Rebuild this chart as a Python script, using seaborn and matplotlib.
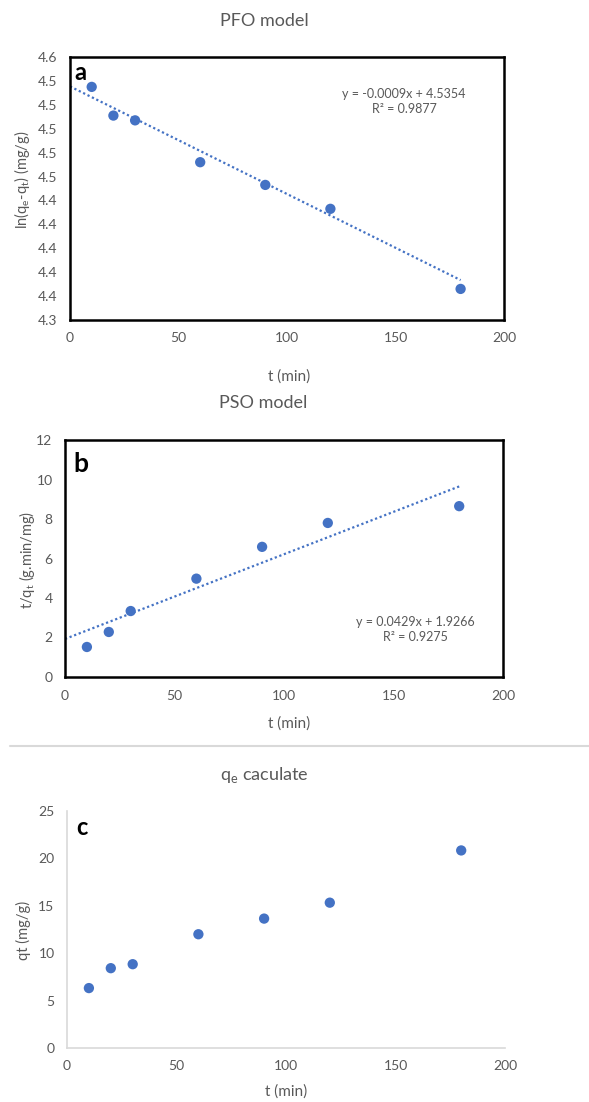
import numpy as np
import pandas as pd
import seaborn as sns
import matplotlib.pyplot as plt
from matplotlib.lines import Line2D

# --- data ---
t_min = [10, 20, 30, 60, 90, 120, 180]
ln_qe_qt = [4.535, 4.511, 4.507, 4.472, 4.453, 4.433, 4.366]
t_over_qt = [1.52, 2.28, 3.34, 4.98, 6.59, 7.80, 8.65]
qt = [6.32, 8.42, 8.84, 12.0, 13.65, 15.33, 20.84]

pfo_slope, pfo_intercept, pfo_r2 = -0.0009, 4.5354, 0.9877
pso_slope, pso_intercept, pso_r2 = 0.0429, 1.9266, 0.9275
trend_x = [0, 180]

pfo_yticks = [4.34, 4.36, 4.38, 4.40, 4.42, 4.44, 4.46, 4.48, 4.50, 4.52, 4.54, 4.56]

BLUE = '#4472C4'
GREY = '#595959'

sns.set_theme(style='white')
plt.rcParams['font.family'] = ['Lato', 'DejaVu Sans']

W, H = 589, 1102
fig = plt.figure(figsize=(W / 100, H / 100), dpi=100)


def px_axes(left, top, right, bottom):
    return fig.add_axes([left / W, 1 - bottom / H, (right - left) / W, (bottom - top) / H])


def style_axes(ax, boxed):
    ax.tick_params(axis='both', length=0, labelsize=10, labelcolor=GREY, pad=9)
    ax.grid(False)
    for side, sp in ax.spines.items():
        if boxed:
            sp.set_visible(True)
            sp.set_color('black')
            sp.set_linewidth(1.8)
        else:
            sp.set_visible(side in ('left', 'bottom'))
            sp.set_color('#d9d9d9')
            sp.set_linewidth(1.2)
    ax.set_xlim(0, 200)
    ax.set_xticks([0, 50, 100, 150, 200])
    ax.set_xlabel('')
    ax.set_ylabel('')


df = pd.DataFrame({'t': t_min, 'ln': ln_qe_qt, 'tq': t_over_qt, 'qt': qt})

# --- a: PFO ---
ax_a = px_axes(70, 57, 504, 320)
tx = np.array(trend_x, dtype=float)
sns.lineplot(x=tx, y=pfo_slope * tx + pfo_intercept, ax=ax_a, color=BLUE,
             linestyle=(0, (1, 1.2)), linewidth=1.6)
sns.scatterplot(data=df, x='t', y='ln', ax=ax_a, color=BLUE, s=55, edgecolor='none', zorder=3)
style_axes(ax_a, True)
ax_a.set_ylim(4.34, 4.56)
ax_a.set_yticks(pfo_yticks)
ax_a.set_yticklabels([f'{v:.1f}' for v in pfo_yticks])
ax_a.text(0.77, 0.83, f'y = {pfo_slope:.4f}x + {pfo_intercept:.4f}\nR² = {pfo_r2:.4f}',
          transform=ax_a.transAxes, ha='center', va='center', fontsize=9, color=GREY,
          linespacing=1.3)
ax_a.text(0.01, 0.985, 'a', transform=ax_a.transAxes, ha='left', va='top',
          fontsize=17, fontweight='bold', color='black')

# --- b: PSO ---
ax_b = px_axes(65, 440, 503, 677)
sns.lineplot(x=tx, y=pso_slope * tx + pso_intercept, ax=ax_b, color=BLUE,
             linestyle=(0, (1, 1.2)), linewidth=1.6)
sns.scatterplot(data=df, x='t', y='tq', ax=ax_b, color=BLUE, s=55, edgecolor='none', zorder=3)
style_axes(ax_b, True)
ax_b.set_ylim(0, 12)
ax_b.set_yticks(range(0, 13, 2))
ax_b.text(0.80, 0.20, f'y = {pso_slope:.4f}x + {pso_intercept:.4f}\nR² = {pso_r2:.4f}',
          transform=ax_b.transAxes, ha='center', va='center', fontsize=9, color=GREY,
          linespacing=1.3)
ax_b.text(0.02, 0.95, 'b', transform=ax_b.transAxes, ha='left', va='top',
          fontsize=19, fontweight='bold', color='black')

# --- c: qe calculated ---
ax_c = px_axes(67, 811, 505, 1048)
sns.scatterplot(data=df, x='t', y='qt', ax=ax_c, color=BLUE, s=55, edgecolor='none', zorder=3)
style_axes(ax_c, False)
ax_c.set_ylim(0, 25)
ax_c.set_yticks(range(0, 26, 5))
ax_c.text(0.02, 0.98, 'c', transform=ax_c.transAxes, ha='left', va='top',
          fontsize=17, fontweight='bold', color='black')

# titles, axis labels
def ftext(x, y, s, **kw):
    fig.text(x / W, 1 - y / H, s, ha='center', va='center', color=GREY, **kw)

ftext(264, 21, 'PFO model', fontsize=13)
ftext(263, 403, 'PSO model', fontsize=13)
ftext(264, 775, r'q$_\mathregular{e}$ caculate', fontsize=13)

ftext(289, 377, 't (min)', fontsize=11)
ftext(289, 724, 't (min)', fontsize=11)
ftext(286, 1092, 't (min)', fontsize=11)

ftext(22, 180, r'ln(q$_\mathregular{e}$-q$_\mathregular{t}$) (mg/g)', fontsize=10.5, rotation=90)
ftext(27, 560, r't/q$_\mathregular{t}$ (g.min/mg)', fontsize=10.5, rotation=90)
ftext(23, 930, 'qt (mg/g)', fontsize=10.5, rotation=90)

# separator line between panels b and c
fig.add_artist(Line2D([10 / W, 1.0], [1 - 746 / H, 1 - 746 / H], transform=fig.transFigure,
                      color='#d9d9d9', linewidth=1.5))

fig.savefig('out.png', dpi=100)
plt.close(fig)
